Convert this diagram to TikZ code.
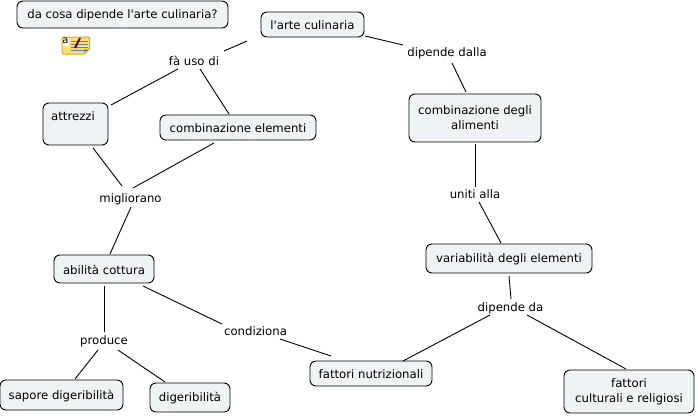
\documentclass[tikz,border=0pt]{standalone}
\usepackage{fontspec}
\newfontfamily\cmapfont{DejaVu Sans}
\usetikzlibrary{positioning,calc}
\definecolor{cmapfill}{HTML}{EEF3F5}
\definecolor{notey}{HTML}{FFDF70}
\definecolor{noteo}{HTML}{E3A41E}
\definecolor{noteb}{HTML}{4A86D0}
\tikzset{
  concept/.style={draw=black, fill=cmapfill, rounded corners=6pt, align=center,
    line width=0.9pt, inner sep=0pt, font=\cmapfont\fontsize{11.7}{15}\selectfont, text=black,
    execute at begin node={\rule{0pt}{11pt}}},
  linkw/.style={inner sep=0pt, text height=9.5pt, text depth=0pt,
    font=\cmapfont\fontsize{11.7}{15}\selectfont, text=black},
  link/.style={line width=0.9pt, draw=black},
}
\begin{document}
\begin{tikzpicture}[x=1pt,y=-1pt]
    \useasboundingbox (0,0) rectangle (698,415);
    % concepts
    \node[concept, minimum width=211pt, minimum height=27pt] (quest) at (122.5,14.5) {da cosa dipende l'arte culinaria?};
    \node[concept, minimum width=103pt, minimum height=25pt] (arte) at (312.5,24.5) {l'arte culinaria};
    \node[concept, minimum width=65pt, minimum height=42pt] (attr) at (75.5,124) {attrezzi\hspace*{5pt}\\[0pt]\mbox{}};
    \node[concept, minimum width=156pt, minimum height=25pt] (comb) at (238,127.5) {combinazione elementi};
    \node[concept, minimum width=132pt, minimum height=48pt] (alim) at (475,118) {combinazione degli\\alimenti};
    \node[concept, minimum width=166pt, minimum height=29pt] (vari) at (509,258.5) {variabilità degli elementi};
    \node[concept, minimum width=100pt, minimum height=28pt] (abil) at (104,269) {abilità cottura};
    \node[concept, minimum width=123pt, minimum height=30pt] (sapo) at (61.5,395) {sapore digeribilità};
    \node[concept, minimum width=80pt, minimum height=29pt] (dige) at (190,397.5) {digeribilità};
    \node[concept, minimum width=122pt, minimum height=25pt] (nutr) at (371,373.5) {fattori nutrizionali};
    \node[concept, minimum width=130pt, minimum height=43pt] (cult) at (629,391.5) {fattori\\ culturali e religiosi};
    % linking phrases
    \node[linkw] (usodi) at (194,61) {fà uso di};
    \node[linkw] (dalla) at (447,52) {dipende dalla};
    \node[linkw] (miglio) at (130.5,198) {migliorano};
    \node[linkw] (uniti) at (475,194) {uniti alla};
    \node[linkw] (dipda) at (510.5,307) {dipende da};
    \node[linkw] (prod) at (104,340) {produce};
    \node[linkw] (condi) at (255.5,331) {condiziona};
    % connectors
    \draw[link] ([shift={(30,-10)}]usodi.center) -- ([shift={(-65.5,16.5)}]arte.center);
    \draw[link] ([shift={(52.5,11.5)}]arte.center) -- ([shift={(-44,-7)}]dalla.center);
    \draw[link] ([shift={(-16,8)}]usodi.center) -- ([shift={(35.5,-19)}]attr.center);
    \draw[link] ([shift={(6,8)}]usodi.center) -- ([shift={(-9,-13.5)}]comb.center);
    \draw[link] ([shift={(5,11)}]dalla.center) -- ([shift={(-9,-26)}]alim.center);
    \draw[link] ([shift={(0,26)}]alim.center) -- ([shift={(0,-7)}]uniti.center);
    \draw[link] ([shift={(4,8)}]uniti.center) -- ([shift={(-8,-15.5)}]vari.center);
    \draw[link] ([shift={(0,17.5)}]vari.center) -- ([shift={(0.5,-8)}]dipda.center);
    \draw[link] ([shift={(-20.5,8)}]dipda.center) -- ([shift={(32,-12.5)}]nutr.center);
    \draw[link] ([shift={(16.5,8)}]dipda.center) -- ([shift={(-3,-22.5)}]cult.center);
    \draw[link] ([shift={(17.5,24)}]attr.center) -- ([shift={(-8.5,-12)}]miglio.center);
    \draw[link] ([shift={(-24,15.5)}]comb.center) -- ([shift={(2.5,-10)}]miglio.center);
    \draw[link] ([shift={(0.5,9)}]miglio.center) -- ([shift={(6,-15)}]abil.center);
    \draw[link] ([shift={(0,17)}]abil.center) -- ([shift={(0,-8)}]prod.center);
    \draw[link] ([shift={(39,17)}]abil.center) -- ([shift={(-33.5,-7)}]condi.center);
    \draw[link] ([shift={(24.5,8)}]condi.center) -- ([shift={(-40,-17.5)}]nutr.center);
    \draw[link] ([shift={(-6,10)}]prod.center) -- ([shift={(13.5,-16)}]sapo.center);
    \draw[link] ([shift={(14,10)}]prod.center) -- ([shift={(-25,-15.5)}]dige.center);
    % note icon
    \draw[noteo, fill=notey, line width=1pt, rounded corners=1pt] (62,37) -- (89.5,37) -- (89.5,49) -- (84,54) -- (62,54) -- cycle;
    \fill[noteo] (84,54) -- (84,49) -- (89.5,49) -- cycle;
    \fill[white] (62.5,37.5) rectangle (68.5,46);
    \node[font=\cmapfont\fontsize{10}{10}\selectfont, inner sep=0pt] (notea) at (65.5,41) {a};
    \foreach \yy in {41,44,47,50}
      \draw[noteb, line width=1pt] (71,\yy) -- (88,\yy);
    \draw[black!60!red, line width=2pt] (75,48) -- (80,38);
\end{tikzpicture}
\end{document}
